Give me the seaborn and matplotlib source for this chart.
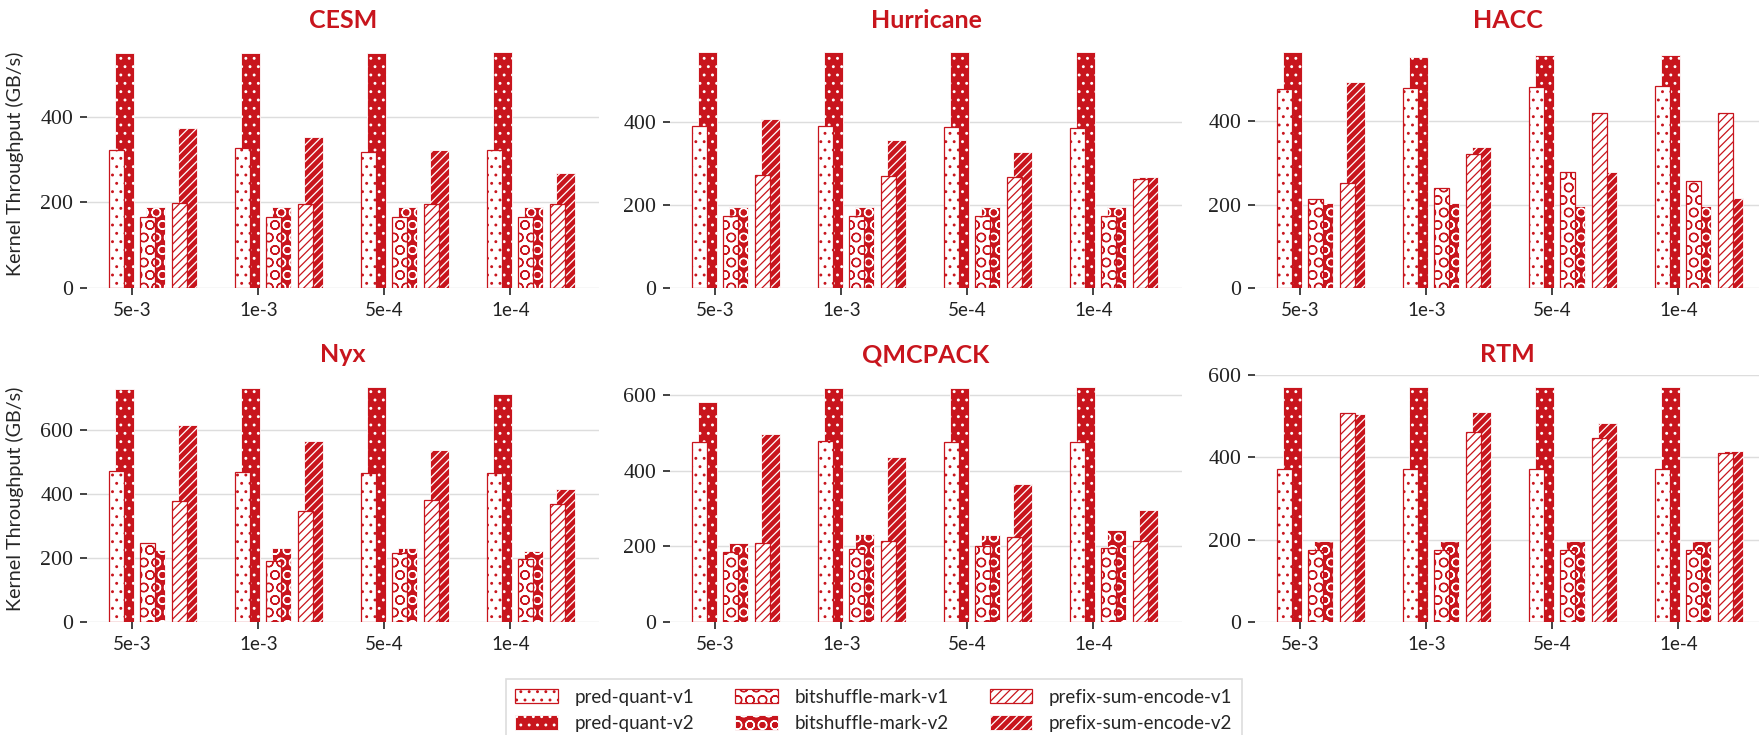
import numpy as np
import pandas as pd
import matplotlib
matplotlib.use('Agg')
import matplotlib.pyplot as plt
from matplotlib.patches import Patch
from matplotlib.ticker import MultipleLocator
import seaborn as sns

# ---- data ----
datasets = ['CESM', 'Hurricane', 'HACC', 'Nyx', 'QMCPACK', 'RTM']
error_bounds = ['5e-3', '1e-3', '5e-4', '1e-4']
kernels = ['pred-quant', 'bitshuffle-mark', 'prefix-sum-encode']

# rows = datasets, columns = error bounds (GB/s)
pred_quant_v1 = [[323, 327, 319, 323],
                 [390, 390, 389, 387],
                 [478, 480, 483, 484],
                 [472, 467, 465, 465],
                 [476, 478, 476, 477],
                 [373, 373, 373, 373]]
pred_quant_v2 = [[550, 550, 550, 552],
                 [569, 569, 569, 570],
                 [567, 555, 559, 559],
                 [727, 730, 734, 712],
                 [581, 619, 618, 622],
                 [572, 572, 572, 572]]
bitshuffle_v1 = [[166, 166, 166, 166],
                 [174, 174, 174, 174],
                 [214, 241, 278, 256],
                 [247, 190, 214, 196],
                 [184, 192, 202, 195],
                 [176, 176, 176, 176]]
bitshuffle_v2 = [[190, 190, 190, 190],
                 [195, 195, 195, 195],
                 [203, 203, 197, 197],
                 [226, 230, 232, 223],
                 [209, 233, 230, 243],
                 [197, 197, 197, 196]]
prefix_sum_v1 = [[199, 197, 197, 197],
                 [273, 270, 267, 263],
                 [251, 321, 419, 419],
                 [376, 346, 382, 368],
                 [210, 213, 224, 213],
                 [508, 463, 447, 410]]
prefix_sum_v2 = [[373, 352, 323, 269],
                 [409, 357, 329, 268],
                 [494, 338, 278, 216],
                 [616, 564, 536, 414],
                 [496, 436, 365, 296],
                 [505, 511, 485, 416]]

series = {
    ('pred-quant', 1): pred_quant_v1, ('pred-quant', 2): pred_quant_v2,
    ('bitshuffle-mark', 1): bitshuffle_v1, ('bitshuffle-mark', 2): bitshuffle_v2,
    ('prefix-sum-encode', 1): prefix_sum_v1, ('prefix-sum-encode', 2): prefix_sum_v2,
}

rows = []
for (kern, ver), table in series.items():
    for d, name in enumerate(datasets):
        for b, eb in enumerate(error_bounds):
            rows.append({'dataset': name, 'kernel': kern, 'version': ver,
                         'bound': b, 'eb': eb, 'value': table[d][b]})
df = pd.DataFrame(rows)

# ---- style ----
RED = '#C8151D'
SANS = ['Lato', 'DejaVu Sans']
SERIF = ['Liberation Serif', 'DejaVu Serif']
hatches = {'pred-quant': '...', 'bitshuffle-mark': 'OO', 'prefix-sum-encode': '//////'}

sns.set_style('whitegrid')
plt.rcParams['font.family'] = SANS
plt.rcParams['hatch.linewidth'] = 0.6
plt.rcParams['grid.color'] = '#dddddd'
plt.rcParams['grid.linewidth'] = 0.7

def bar_style(ver):
    if ver == 1:
        return dict(color='white', edgecolor=RED, linewidth=0.6)
    return dict(color=RED, edgecolor='white', linewidth=0.4)

fig = plt.figure(figsize=(1760 / 150, 735 / 150), dpi=150)
W, H = 1760, 735
lefts = [87, 670, 1255]
tops = [40, 375]
bottoms = [288, 622]
px_per_unit = 126

for i, name in enumerate(datasets):
    r, c = divmod(i, 3)
    width_px = min(512, W - lefts[c])
    ax = fig.add_axes([lefts[c] / W, 1 - bottoms[r] / H,
                       width_px / W, (bottoms[r] - tops[r]) / H])
    sub = df[df['dataset'] == name]
    # v2 drawn first so that v1 sits on top of it
    for ver in (2, 1):
        for k, kern in enumerate(kernels):
            s = sub[(sub['kernel'] == kern) & (sub['version'] == ver)]
            offset = -0.129 + 0.25 * k + (0.066 if ver == 2 else 0.0)
            sns.barplot(x=s['bound'].values + offset, y=s['value'].values,
                        native_scale=True, width=0.15 if ver == 2 else 0.12,
                        saturation=1, errorbar=None, hatch=hatches[kern],
                        ax=ax, **bar_style(ver))
    ax.set_xlim(-0.36, -0.36 + width_px / px_per_unit)
    ax.set_xticks(range(len(error_bounds)))
    ax.set_xticklabels(error_bounds)
    ax.yaxis.set_major_locator(MultipleLocator(200))
    ax.grid(axis='x', visible=False)
    ax.grid(axis='y', visible=True)
    ax.set_axisbelow(True)
    for sp in ax.spines.values():
        sp.set_visible(False)
    ax.tick_params(axis='both', which='major', left=True, bottom=True,
                   length=3.5, width=0.8, color='#222222',
                   pad=3, labelcolor='#222222')
    ax.tick_params(axis='x', labelsize=9, labelfontfamily='Lato')
    ax.tick_params(axis='y', labelsize=10.5, labelfontfamily='Liberation Serif')
    ax.set_xlabel('')
    ax.set_title(name, color=RED, fontweight='bold', fontsize=12,
                 family=SANS, pad=6)
    if c == 0:
        ax.set_ylabel('Kernel Throughput (GB/s)', family=SANS,
                      fontsize=9.5, labelpad=8)
    else:
        ax.set_ylabel('')

handles, labels = [], []
for kern in kernels:
    for ver in (1, 2):
        st = bar_style(ver)
        handles.append(Patch(facecolor=st['color'], edgecolor=st['edgecolor'],
                             linewidth=st['linewidth'], hatch=hatches[kern]))
        labels.append(f'{kern}-v{ver}')

leg = fig.legend(handles, labels, loc='upper center', bbox_to_anchor=(874 / W, 1 - 670 / H),
                 ncol=3, frameon=True, fancybox=False, edgecolor='#d4d4d4',
                 prop={'family': SANS, 'size': 9},
                 handlelength=2.25, handleheight=0.8, handletextpad=0.9,
                 columnspacing=2.2, labelspacing=0.5, borderpad=0.5)
leg.get_frame().set_linewidth(0.8)

fig.savefig('out.png', dpi=150)
